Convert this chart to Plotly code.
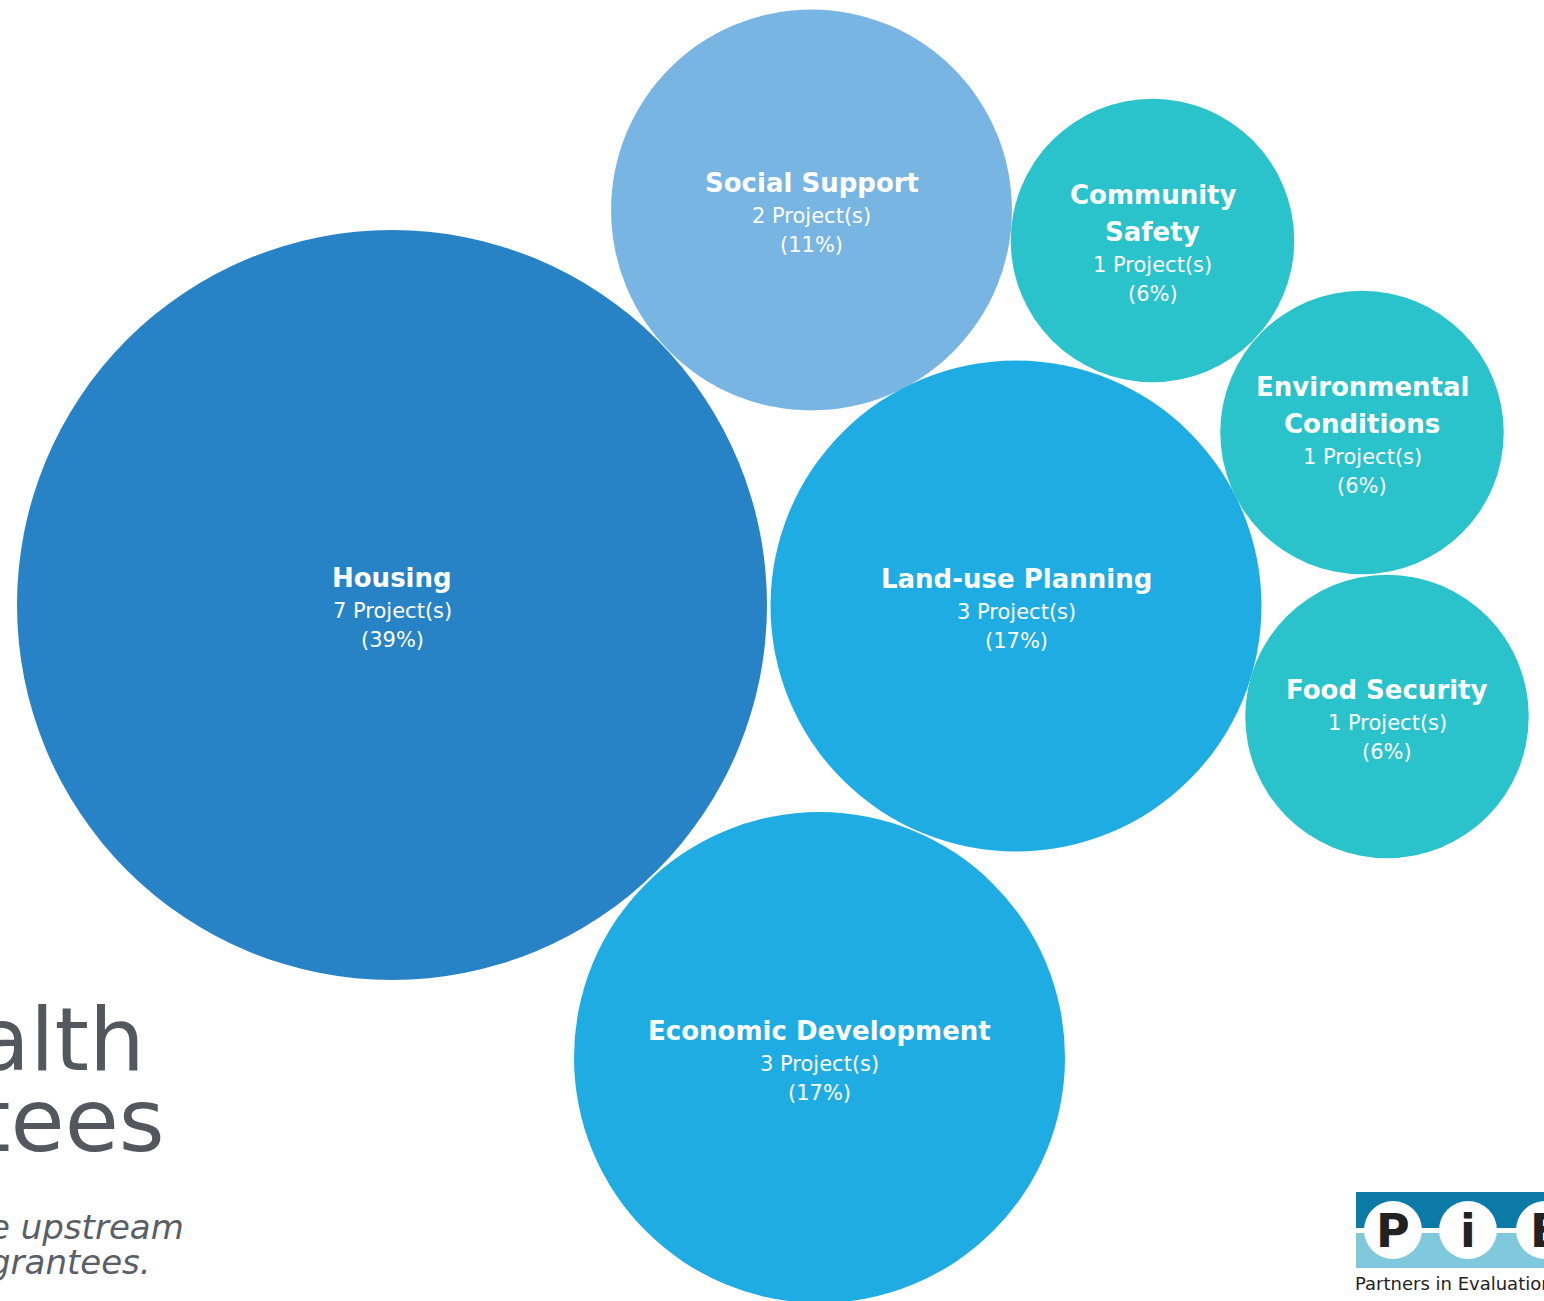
import plotly.graph_objects as go

# ---- data ----
categories = ["Housing", "Social Support", "Community Safety", "Environmental Conditions",
              "Land-use Planning", "Food Security", "Economic Development"]
title_lines = [["Housing"], ["Social Support"], ["Community", "Safety"],
               ["Environmental", "Conditions"], ["Land-use Planning"], ["Food Security"],
               ["Economic Development"]]
projects = [7, 2, 1, 1, 3, 1, 3]

# ---- layout (bubble centres in page pixels) and styles ----
center_x = [392, 811.5, 1152.5, 1362, 1016, 1387, 819.5]
center_y = [605, 210, 240.5, 432.5, 606, 716.5, 1057.5]
colors = ["#2783C6", "#78B5E3", "#2AC3CB", "#2AC3CB", "#1FACE3", "#2AC3CB", "#1FACE3"]
W, H = 1544, 1301
MAX_DIAM = 750

total = sum(projects)
pct_labels = [f"({round(100 * p / total)}%)" for p in projects]
proj_labels = [f"{p} Project(s)" for p in projects]

sizeref = 2.0 * max(projects) / (MAX_DIAM ** 2)

fig = go.Figure()
fig.add_trace(go.Scatter(
    x=center_x, y=center_y, mode="markers",
    marker=dict(size=projects, sizemode="area", sizeref=sizeref,
                color=colors, line=dict(width=0), opacity=1),
    hoverinfo="text", text=categories, showlegend=False,
))

annotations = []
FONT = "DejaVu Sans"
for i, cat in enumerate(categories):
    lines = [(t, True) for t in title_lines[i]] + [(proj_labels[i], False), (pct_labels[i], False)]
    nt = len(title_lines[i])
    gaps = [37] * (nt - 1) + [33, 29]
    span = sum(gaps)
    off = 4 - span / 2
    for j, (txt, bold) in enumerate(lines):
        annotations.append(dict(
            x=center_x[i], y=center_y[i], xref="x", yref="y",
            text=f"<b>{txt}</b>" if bold else txt, showarrow=False,
            xanchor="center", yanchor="middle", yshift=-off,
            font=dict(family=FONT, size=26 if bold else 21, color="white"),
        ))
        if j < len(gaps):
            off += gaps[j]

# background page text (cut off at the left edge)
GRAY = "#53575E"
annotations += [
    dict(x=167, y=1080, xref="x", yref="y",
         text="<span style='font-size:88px'>alth</span><br><span style='font-size:88px'>tees</span>",
         showarrow=False, align="left", xanchor="right", yanchor="middle",
         font=dict(family=FONT, size=62, color=GRAY)),
    dict(x=186, y=1244, xref="x", yref="y",
         text="<i><span style='font-size:34px'>e upstream</span></i><br>"
              "<i><span style='font-size:34px'>grantees.</span></i>",
         showarrow=False, align="left", xanchor="right", yanchor="middle",
         font=dict(family=FONT, size=27, color="#5A5E66")),
]

# logo
shapes = [
    dict(type="rect", x0=1356, x1=1600, y0=1192, y1=1230, xref="x", yref="y",
         fillcolor="#0B7AA6", line=dict(width=0), layer="above"),
    dict(type="rect", x0=1356, x1=1600, y0=1230, y1=1268, xref="x", yref="y",
         fillcolor="#80C8DC", line=dict(width=0), layer="above"),
    dict(type="rect", x0=1356, x1=1600, y0=1228, y1=1233, xref="x", yref="y",
         fillcolor="white", line=dict(width=0), layer="above"),
]
for cx in [1393, 1468, 1545]:
    shapes.append(dict(type="circle", x0=cx - 29, x1=cx + 29, y0=1201, y1=1259,
                       xref="x", yref="y", fillcolor="white", line=dict(width=0), layer="above"))
for cx, letter, anchor in [(1393, "P", "center"), (1468, "i", "center"), (1528, "E", "left")]:
    annotations.append(dict(x=cx, y=1231, xref="x", yref="y", text=f"<b>{letter}</b>",
                            showarrow=False, xanchor=anchor, yanchor="middle",
                            font=dict(family=FONT, size=46, color="#222222")))
annotations.append(dict(x=1353, y=1283, xref="x", yref="y", text="Partners in Evaluation",
                        showarrow=False, xanchor="left", yanchor="middle",
                        font=dict(family=FONT, size=18, color="#222222")))

fig.update_layout(
    width=W, height=H, margin=dict(l=0, r=0, t=0, b=0),
    paper_bgcolor="white", plot_bgcolor="white",
    xaxis=dict(range=[0, W], visible=False, fixedrange=True),
    yaxis=dict(range=[H, 0], visible=False, fixedrange=True),
    annotations=annotations, shapes=shapes,
)

fig.write_html("out.html")
